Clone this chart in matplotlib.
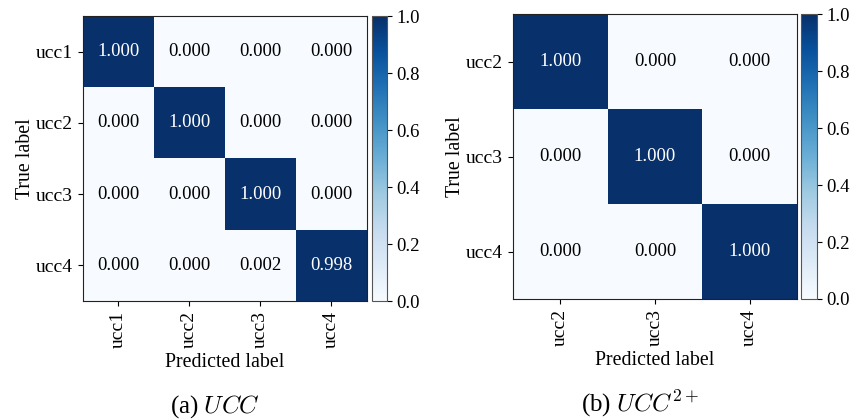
import matplotlib
matplotlib.use("Agg")
import matplotlib.pyplot as plt
import numpy as np

plt.rcParams['font.family'] = ['Liberation Serif', 'DejaVu Serif']
plt.rcParams['mathtext.fontset'] = 'cm'
plt.rcParams['font.size'] = 14

labels_a = ["ucc1", "ucc2", "ucc3", "ucc4"]
cm_a = [[1.000, 0.000, 0.000, 0.000],
        [0.000, 1.000, 0.000, 0.000],
        [0.000, 0.000, 1.000, 0.000],
        [0.000, 0.000, 0.002, 0.998]]

labels_b = ["ucc2", "ucc3", "ucc4"]
cm_b = [[1.000, 0.000, 0.000],
        [0.000, 1.000, 0.000],
        [0.000, 0.000, 1.000]]

captions = [r"(a) $UCC$", r"(b) $UCC^{2+}$"]


def draw_cm(ax, cax, cm, labels):
    cm = np.array(cm)
    im = ax.imshow(cm, cmap="Blues", vmin=0, vmax=1, aspect="auto")
    n = len(labels)
    for i in range(n):
        for j in range(n):
            col = "white" if cm[i, j] > 0.5 else "black"
            ax.text(j, i, "%.3f" % cm[i, j], ha="center", va="center",
                    color=col, fontsize=13.5)
    ax.set_xticks(range(n))
    ax.set_yticks(range(n))
    ax.set_xticklabels(labels, rotation=90, fontsize=14)
    ax.set_yticklabels(labels, fontsize=14)
    ax.set_xlabel("Predicted label", fontsize=14.3, labelpad=4)
    ax.set_ylabel("True label", fontsize=14.3, labelpad=1)
    for s in ax.spines.values():
        s.set_color("#222222")
    cb = plt.colorbar(im, cax=cax)
    cb.set_ticks([0.0, 0.2, 0.4, 0.6, 0.8, 1.0])
    cb.ax.tick_params(labelsize=13.5)
    cb.outline.set_edgecolor("#555555")


fig = plt.figure(figsize=(8.51, 4.19), dpi=100)

ax1 = fig.add_axes([0.0975, 0.2816, 0.3337, 0.680])
cax1 = fig.add_axes([0.437, 0.2816, 0.0176, 0.680])
draw_cm(ax1, cax1, cm_a, labels_a)

ax2 = fig.add_axes([0.6028, 0.2864, 0.3337, 0.680])
cax2 = fig.add_axes([0.941, 0.2864, 0.0188, 0.680])
draw_cm(ax2, cax2, cm_b, labels_b)

fig.text(0.253, 0.030, captions[0], ha="center", va="center", fontsize=18)
fig.text(0.752, 0.036, captions[1], ha="center", va="center", fontsize=18)

fig.savefig("out.png", dpi=100)
